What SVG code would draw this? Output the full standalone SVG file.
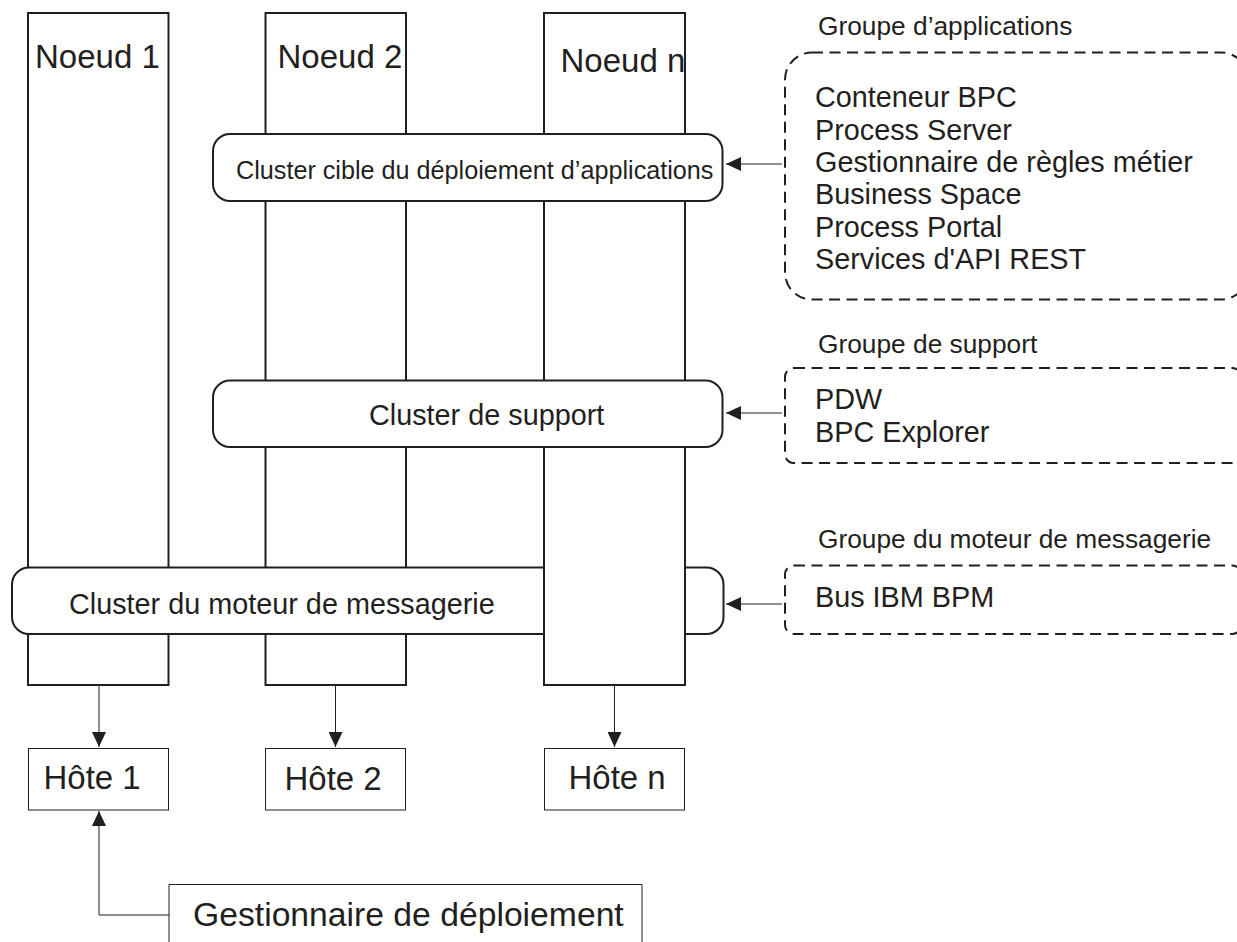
<svg xmlns="http://www.w3.org/2000/svg" width="1237" height="942" viewBox="0 0 1237 942">
<style>
text{font-family:"Liberation Sans",Arial,sans-serif;fill:#231f20}
.n{fill:#fff;stroke:#231f20;stroke-width:2}
.h{fill:#fff;stroke:#231f20;stroke-width:1}
.d{fill:none;stroke:#231f20;stroke-width:2;stroke-dasharray:11 6.5}
.c{fill:none;stroke:#231f20;stroke-width:1}
.big{font-size:33px}
.mid{font-size:28.8px}
.lab{font-size:26.3px}
</style>
<defs>
<marker id="a" markerUnits="userSpaceOnUse" markerWidth="16" markerHeight="14" refX="15" refY="7" orient="auto"><path d="M0 0L15 7L0 14Z" fill="#231f20"/></marker>
</defs>
<rect width="1237" height="942" fill="#fff"/>
<g id="node-1"><rect class="n" x="28" y="13" width="140.500" height="672"/><text class="big" x="35" y="68">Noeud 1</text></g>
<g id="node-2"><rect class="n" x="265.500" y="13" width="140.500" height="672"/><text class="big" x="277.500" y="68">Noeud 2</text></g>
<g id="cluster-messagerie"><rect class="n" x="12" y="567.500" width="711.500" height="66.500" rx="17"/><text class="mid" x="69" y="614">Cluster du moteur de messagerie</text></g>
<g id="node-n"><rect class="n" x="544" y="13" width="141" height="672"/><text class="big" x="560.500" y="72">Noeud n</text></g>
<g id="cluster-applications"><rect class="n" x="213" y="134" width="509.500" height="67" rx="17"/><text class="lab" x="236" y="179" style="font-size:25.200px">Cluster cible du déploiement d’applications</text></g>
<g id="cluster-support"><rect class="n" x="213" y="380.500" width="509.500" height="66.500" rx="17"/><text class="mid" x="369" y="425">Cluster de support</text></g>
<g id="host-1"><rect class="h" x="28.500" y="748.500" width="140" height="61.500"/><text class="big" x="43.500" y="789">Hôte 1</text></g>
<g id="host-2"><rect class="h" x="265.500" y="748.500" width="140" height="61.500"/><text class="big" x="284.500" y="790">Hôte 2</text></g>
<g id="host-n"><rect class="h" x="544.500" y="748.500" width="140" height="61.500"/><text class="big" x="568.500" y="789">Hôte n</text></g>
<g id="deployment-manager"><path class="h" d="M169 945V884.500H642V945"/><text class="big" x="193" y="926" style="font-size:33.700px">Gestionnaire de déploiement</text></g>
<g id="group-applications"><text class="lab" x="818" y="35">Groupe d’applications</text><rect class="d" x="785" y="52.500" width="463" height="247" rx="27"/><text class="mid" x="815" y="107">Conteneur BPC</text><text class="mid" x="815" y="139.500">Process Server</text><text class="mid" x="815" y="172">Gestionnaire de règles métier</text><text class="mid" x="815" y="204">Business Space</text><text class="mid" x="815" y="236.500">Process Portal</text><text class="mid" x="815" y="269">Services d'API REST</text></g>
<g id="group-support"><text class="lab" x="818" y="353">Groupe de support</text><rect class="d" x="785" y="368" width="456" height="95" rx="9"/><text class="mid" x="815" y="409">PDW</text><text class="mid" x="815" y="441.500">BPC Explorer</text></g>
<g id="group-messagerie"><text class="lab" x="818" y="548">Groupe du moteur de messagerie</text><rect class="d" x="785" y="565.500" width="456" height="68.500" rx="9"/><text class="mid" x="815" y="607">Bus IBM BPM</text></g>
<g id="connectors">
<path class="c" d="M782 164H726" marker-end="url(#a)"/>
<path class="c" d="M782 413H726" marker-end="url(#a)"/>
<path class="c" d="M782 604H726" marker-end="url(#a)"/>
<path class="c" d="M99 685V747" marker-end="url(#a)"/>
<path class="c" d="M335.500 685V747" marker-end="url(#a)"/>
<path class="c" d="M614.500 685V747" marker-end="url(#a)"/>
<path class="c" d="M169 915H99V811" marker-end="url(#a)"/>
</g>
</svg>
